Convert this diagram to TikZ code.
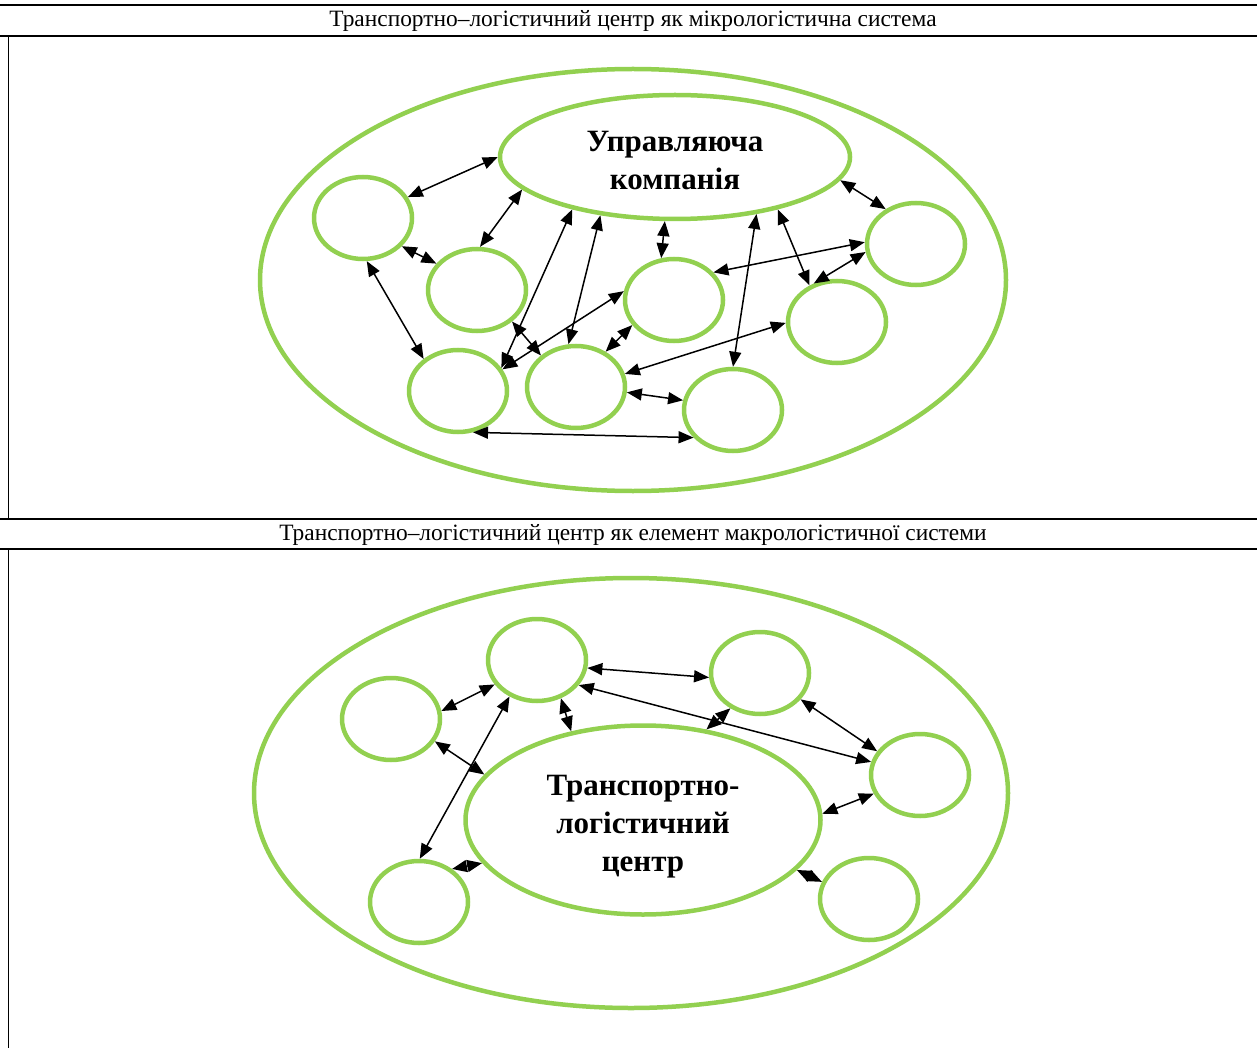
\documentclass[tikz,border=0pt]{standalone}
\usepackage{fontspec}
\setmainfont{Liberation Serif}
\usetikzlibrary{shapes.geometric,arrows.meta}
\definecolor{lgreen}{RGB}{146,208,80}

\begin{document}
\begin{tikzpicture}[x=1pt,y=-1pt,
        elem/.style={ellipse, draw=lgreen, line width=4.5pt, minimum width=98pt, minimum height=82pt, inner sep=0pt},
        core/.style={ellipse, draw=lgreen, line width=4.5pt, inner sep=0pt, align=center,
                font=\fontsize{31}{38}\selectfont\bfseries},
        link/.style={<->, line width=1.5pt},
        >={Triangle[length=15pt,width=12pt]}]
                \useasboundingbox (0,0) rectangle (1257,1048);
                % table lines
                \draw[line width=1.5pt] (0,5) -- (1257,5);
                \draw[line width=1.5pt] (0,36) -- (1257,36);
                \draw[line width=1pt] (8,36) -- (8,519);
                \draw[line width=1.5pt] (0,519) -- (1257,519);
                \draw[line width=1.5pt] (0,549) -- (1257,549);
                \draw[line width=1pt] (8,549) -- (8,1048);
                \node (title1) at (633,21) {\fontsize{23.4}{27}\selectfont Транспортно–логістичний центр як мікрологістична система};
                \node (title2) at (633,535) {\fontsize{23.4}{27}\selectfont Транспортно–логістичний центр як елемент макрологістичної системи};

                % micro system
                \draw[lgreen, line width=4.5pt] (633,280) ellipse [x radius=373, y radius=211];
                \node[core, minimum width=350pt, minimum height=124pt] (uk) at (675,157) {\rule{0pt}{27pt}Управляюча\\компанія};
                \foreach \n/\x/\y in {a/363/218, b/477/290, c/674/300, d/916/244, e/837/322, f/458/391, g/576/387, h/733/410} {
                        \node[elem] (\n) at (\x,\y) {};
                    }
                \draw[link] (a.25) -- (uk.180);
                \draw[link] (a.-36) -- (b.147);
                \draw[link] (b.86) -- (uk.192);
                \draw[link] (a.-85) -- (f.137);
                \draw[link] (uk.207) -- (f.28);
                \draw[link] (c.170) -- (f.26);
                \draw[link] (uk.218) -- (g.100);
                \draw[link] (b.-42) -- (g.138);
                \draw[link] (uk.261) -- (c.107);
                \draw[link] (uk.-35) -- (h.90);
                \draw[link] (uk.-27) -- (e.127);
                \draw[link] (uk.-8) -- (d.131);
                \draw[link] (d.178) -- (c.35);
                \draw[link] (d.189) -- (e.121);
                \draw[link] (c.211) -- (g.50);
                \draw[link] (e.181) -- (g.15);
                \draw[link] (g.-6) -- (h.169);
                \draw[link] (f.-70) -- (h.215);

                % macro system
                \draw[lgreen, line width=4.5pt] (631,793) ellipse [x radius=377, y radius=215];
                \node[core, minimum width=355pt, minimum height=189pt] (tlc) at (643,820) {\rule{0pt}{33pt}Транспортно-\\логістичний\\центр};
                \foreach \n/\x/\y in {p/391/719, q/537/660, r/760/673, s/920/775, t/419/902, u/869/899} {
                        \node[elem] (\n) at (\x,\y) {};
                    }
                \draw[link] (p.9) -- (q.210);
                \draw[link] (p.-27) -- (tlc.164);
                \draw[link] (q.233) -- (t.89);
                \draw[link] (q.-58) -- (tlc.129);
                \draw[link] (t.45) -- (tlc.195);
                \draw[link] (q.-9) -- (r.185);
                \draw[link] (q.-31) -- (s.165);
                \draw[link] (r.230) -- (tlc.55);
                \draw[link] (r.-33) -- (s.151);
                \draw[link] (s.202) -- (tlc.2);
                \draw[link] (tlc.-18) -- (u.160);
            \end{tikzpicture}
\end{document}
